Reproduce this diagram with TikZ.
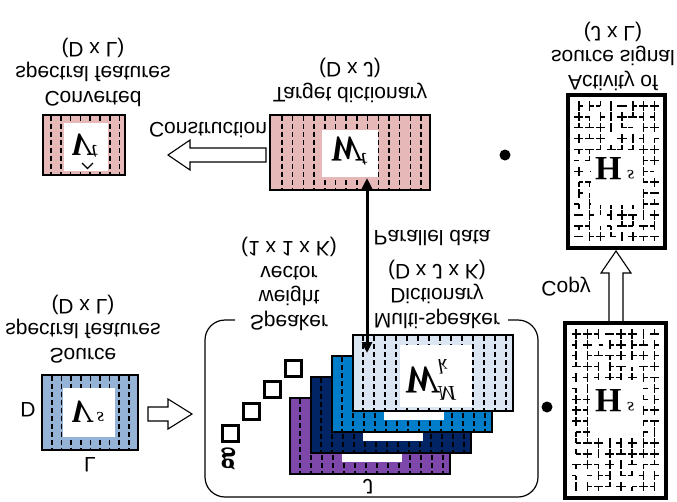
\documentclass[tikz,border=0pt]{standalone}
\usepackage{fontspec}
\setmainfont{Liberation Sans}
\newfontfamily\mfont{Liberation Serif}
\usetikzlibrary{arrows.meta}
\definecolor{pinkbox}{RGB}{230,184,183}
\definecolor{srcblue}{RGB}{149,179,215}
\definecolor{lightlay}{RGB}{220,230,242}
\definecolor{bluelay}{RGB}{0,125,200}
\definecolor{navylay}{RGB}{0,36,100}
\definecolor{purplay}{RGB}{125,72,170}
\newcommand\mysup[3]{\raisebox{#1}{\fontsize{#2}{#2}\selectfont\mdseries\itshape #3}}
\newcommand\mazefill[6]{%
  \foreach \i in {1,...,#3}{\foreach \j in {1,...,#4}{%
    \pgfmathrandominteger{\ra}{0}{9}%
    \ifnum\ra<7 \draw[mz] ({#1+#5*\i},{#2+#6*\j}) -- ++(4.6,0);\fi
    \pgfmathrandominteger{\ra}{0}{9}%
    \ifnum\ra<7 \draw[mz] ({#1+#5*\i},{#2+#6*\j}) -- ++(-4.6,0);\fi
    \pgfmathrandominteger{\ra}{0}{9}%
    \ifnum\ra<7 \draw[mz] ({#1+#5*\i},{#2+#6*\j}) -- ++(0,4.6);\fi
    \pgfmathrandominteger{\ra}{0}{9}%
    \ifnum\ra<7 \draw[mz] ({#1+#5*\i},{#2+#6*\j}) -- ++(0,-4.6);\fi
  }}}
\newcommand\dictlayer[6]{%
  \fill[#3] (#1,#2) rectangle ++(160,76);
  \foreach \k in {0,...,13}{\draw[dl] ({#1+10+11*\k},{#2+1}) -- ++(0,74);}
  \fill[white] ({#1+#4},{#2+10}) rectangle ({#1+#5},{#2+#6});
  \draw[bx] (#1,#2) rectangle ++(160,76);}
\begin{document}
\begin{tikzpicture}[x=1pt,y=1pt,yscale=-1,transform shape,
  lbl/.style={font=\fontsize{21}{24.5}\selectfont, align=center, inner sep=0pt},
  mth/.style={font=\mfont\bfseries\fontsize{34}{36}\selectfont, inner sep=0pt, anchor=base west},
  dl/.style={line width=1.5pt, dash pattern=on 5pt off 3pt},
  bx/.style={draw=black, line width=1.8pt},
  hbx/.style={draw=black, line width=3.5pt},
  mz/.style={line width=1.5pt},
  harrow/.style={draw=black, fill=white, line width=1.1pt},
  sqr/.style={draw=black, line width=3pt, minimum size=16pt, inner sep=0pt},
  pd/.style={line width=3pt, {Triangle[length=11pt,width=10pt]}-{Triangle[length=11pt,width=10pt]}},
  ]
\useasboundingbox (0,0) rectangle (677,501);
\pgfmathsetseed{4321}

% ---- Converted spectral features
\fill[pinkbox] (43,115) rectangle (125,175);
\foreach \k in {0,...,7}{\draw[dl] ({51+9.8*\k},116) -- (51+9.8*\k,174);}
\fill[white] (64,123) rectangle (108,171);
\draw[bx] (43,115) rectangle (125,175);
\node[mth, font=\mfont\bfseries\fontsize{32}{34}\selectfont] (vt) at (70,134) {\itshape V\mysup{11pt}{21}{t}};
\draw[line width=1.4pt] (82,163) -- (87.5,168.5) -- (93,163);
\node[lbl] (convlbl) at (93,72) {Converted\\spectral features\\(D x L)};

% ---- Target dictionary
\fill[pinkbox] (270,115) rectangle (430,190);
\foreach \k in {0,...,13}{\draw[dl] ({282+10.7*\k},116) -- (282+10.7*\k,189);}
\fill[white] (322,130) rectangle (378,177);
\draw[bx] (270,115) rectangle (430,190);
\node[mth, font=\mfont\bfseries\fontsize{36}{38}\selectfont] (wt) at (329,137) {\itshape W\mysup{16pt}{21}{t}};
\node[lbl] (tgtlbl) at (350,80.5) {Target dictionary\\(D x J)};

% Construction arrow
\draw[harrow] (266,148) -- (190,148) -- (190,140) -- (168,155) -- (190,170) -- (190,162) -- (266,162) -- cycle;
\node[lbl] (constr) at (208,130) {Construction};

% bullet top
\fill (505,155) circle (5.5);

% ---- Activity H (top)
\mazefill{568}{95}{8}{13}{10.8}{10.9}
\fill[white] (591,150) rectangle (643,205);
\draw[hbx] (568,95) rectangle (665,248);
\node[mth] (hs1) at (595,157) {H\,\mysup{13pt}{18}{s}};
\node[lbl] (actlbl) at (613,56) {Activity of\\source signal\\(J x L)};

% Copy arrow
\draw[harrow] (609,322) -- (609,273) -- (601,273) -- (616,251) -- (631,273) -- (623,273) -- (623,322) -- cycle;
\node[lbl] (copy) at (566,287) {Copy};

% ---- Source spectral features
\fill[srcblue] (42,375) rectangle (138,450);
\foreach \k in {0,...,8}{\draw[dl] ({52+9.6*\k},376) -- (52+9.6*\k,449);}
\fill[white] (63,388) rectangle (115,437);
\draw[bx] (42,375) rectangle (138,450);
\node[mth, font=\mfont\bfseries\fontsize{32}{34}\selectfont] (vs) at (70,401) {\itshape V\,\mysup{11pt}{19}{s}};
\node[lbl] (srclbl) at (83,329) {Source\\spectral features\\(D x L)};
\node[lbl] (dlab) at (28,410) {D};
\node[lbl] (llab) at (90,465) {L};

% Source arrow
\draw[harrow] (148,407) -- (168,407) -- (168,399) -- (192,414) -- (168,429) -- (168,421) -- (148,421) -- cycle;

% ---- Rounded frame
\draw[line width=1.2pt, rounded corners=20pt] (235,320) -- (205,320) -- (205,497) -- (538,497) -- (538,320) -- (508,320);

% speaker weight squares
\node[sqr] (g1) at (230,433) {};
\node[sqr] (g2) at (251,411) {};
\node[sqr] (g3) at (272,389) {};
\node[sqr] (g4) at (293,368) {};
\node[inner sep=0pt, font=\mfont\bfseries\fontsize{30}{32}\selectfont] (glab) at (228,459) {g};
\node[lbl] (spklbl) at (289,284) {Speaker\\weight\\vector\\(1 x 1 x K)};

% dictionary layers
\dictlayer{290}{398}{purplay}{52}{112}{64}
\dictlayer{311}{377}{navylay}{52}{112}{64}
\dictlayer{332}{356}{bluelay}{52}{112}{64}
\dictlayer{353}{335}{lightlay}{47}{119}{72}
\node[mth, font=\mfont\bfseries\fontsize{39}{41}\selectfont] (wm) at (403,367) {\itshape W\rlap{\mysup{19pt}{21}{M}}\mysup{-8pt}{21}{k}};
\node[lbl] (jlab) at (368,487) {J};
\node[lbl] (mslbl) at (437,294) {Multi-speaker\\Dictionary\\(D x J x K)};

% parallel data arrow
\coordinate (pdtop) at (367,178);
\coordinate (pdbot) at (367,353);
\draw[pd] (pdbot) -- (pdtop);
\node[lbl] (pdlbl) at (432,238) {Parallel data};

% bullet bottom
\fill (547,407) circle (5.5);

% ---- Activity H (bottom)
\mazefill{565}{323}{8}{15}{11.2}{10.9}
\fill[white] (590,380) rectangle (643,437);
\draw[hbx] (565,323) rectangle (666,498);
\node[mth] (hs2) at (595,389) {H\,\mysup{13pt}{18}{s}};
\end{tikzpicture}
\end{document}
